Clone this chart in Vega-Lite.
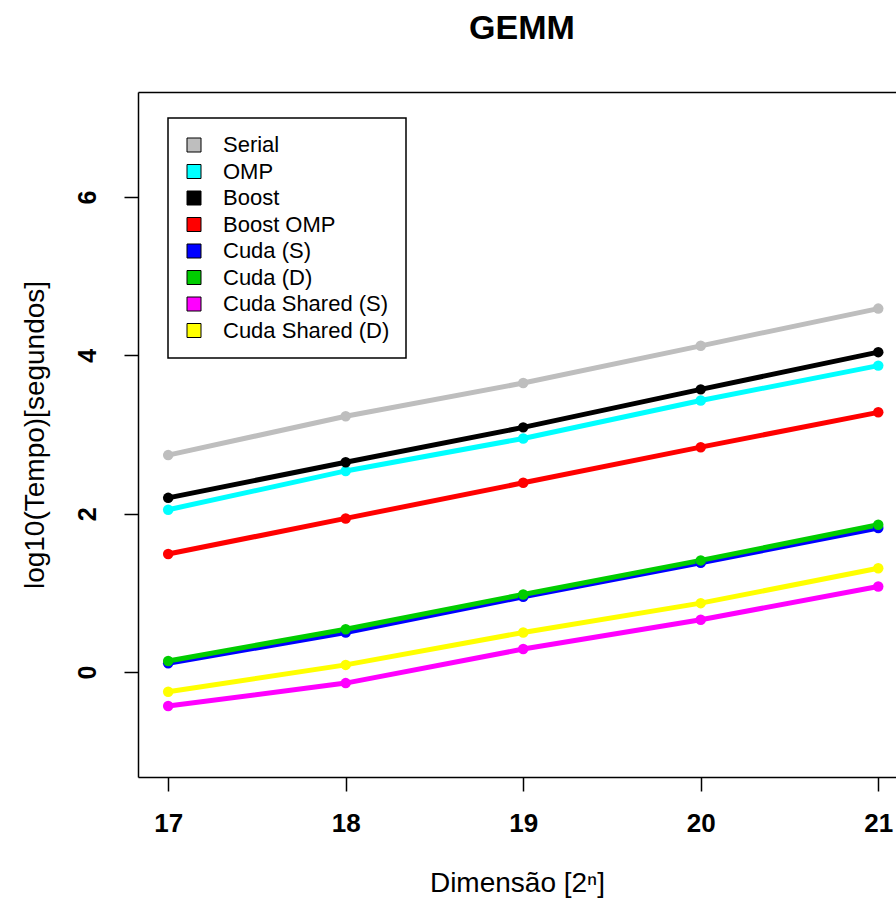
{
  "$schema": "https://vega.github.io/schema/vega-lite/v6.json",
  "width": 758,
  "height": 685,
  "autosize": {"type": "none"},
  "padding": {"left": 138, "top": 92, "right": 0, "bottom": 130},
  "background": "white",
  "title": {
    "text": "GEMM",
    "font": "Liberation Sans",
    "fontSize": 34,
    "fontWeight": "bold",
    "color": "black",
    "anchor": "middle",
    "dx": 5,
    "offset": 46
  },
  "config": {
    "view": {"stroke": null},
    "axis": {
      "grid": false,
      "domainColor": "black",
      "domainWidth": 1.5,
      "tickColor": "black",
      "tickWidth": 1.5,
      "tickSize": 14,
      "labelColor": "black",
      "labelFont": "Liberation Sans",
      "labelFontWeight": "bold",
      "titleFont": "Liberation Sans",
      "titleFontWeight": "normal",
      "titleColor": "black"
    },
    "legend": {
      "orient": "none",
      "legendX": 30,
      "legendY": 26,
      "direction": "vertical",
      "strokeColor": "black",
      "strokeWidth": 1.5,
      "padding": 16,
      "symbolType": "square",
      "symbolSize": 196,
      "symbolOffset": -1,
      "symbolOpacity": 1,
      "symbolStrokeColor": "black",
      "symbolStrokeWidth": 1,
      "labelOffset": 18,
      "labelFont": "Liberation Sans",
      "labelFontSize": 22,
      "labelColor": "black",
      "labelLimit": 400,
      "rowPadding": 4.5
    }
  },
  "data": {
    "values": [
      {"series": "Serial", "n": 17, "t": 2.74},
      {"series": "Serial", "n": 18, "t": 3.23},
      {"series": "Serial", "n": 19, "t": 3.65},
      {"series": "Serial", "n": 20, "t": 4.12},
      {"series": "Serial", "n": 21, "t": 4.59},
      {"series": "OMP", "n": 17, "t": 2.05},
      {"series": "OMP", "n": 18, "t": 2.54},
      {"series": "OMP", "n": 19, "t": 2.95},
      {"series": "OMP", "n": 20, "t": 3.43},
      {"series": "OMP", "n": 21, "t": 3.87},
      {"series": "Boost", "n": 17, "t": 2.2},
      {"series": "Boost", "n": 18, "t": 2.65},
      {"series": "Boost", "n": 19, "t": 3.09},
      {"series": "Boost", "n": 20, "t": 3.57},
      {"series": "Boost", "n": 21, "t": 4.04},
      {"series": "Boost OMP", "n": 17, "t": 1.49},
      {"series": "Boost OMP", "n": 18, "t": 1.94},
      {"series": "Boost OMP", "n": 19, "t": 2.39},
      {"series": "Boost OMP", "n": 20, "t": 2.84},
      {"series": "Boost OMP", "n": 21, "t": 3.28},
      {"series": "Cuda (S)", "n": 17, "t": 0.11},
      {"series": "Cuda (S)", "n": 18, "t": 0.5},
      {"series": "Cuda (S)", "n": 19, "t": 0.95},
      {"series": "Cuda (S)", "n": 20, "t": 1.38},
      {"series": "Cuda (S)", "n": 21, "t": 1.82},
      {"series": "Cuda (D)", "n": 17, "t": 0.14},
      {"series": "Cuda (D)", "n": 18, "t": 0.54},
      {"series": "Cuda (D)", "n": 19, "t": 0.98},
      {"series": "Cuda (D)", "n": 20, "t": 1.41},
      {"series": "Cuda (D)", "n": 21, "t": 1.86},
      {"series": "Cuda Shared (S)", "n": 17, "t": -0.43},
      {"series": "Cuda Shared (S)", "n": 18, "t": -0.14},
      {"series": "Cuda Shared (S)", "n": 19, "t": 0.29},
      {"series": "Cuda Shared (S)", "n": 20, "t": 0.66},
      {"series": "Cuda Shared (S)", "n": 21, "t": 1.08},
      {"series": "Cuda Shared (D)", "n": 17, "t": -0.25},
      {"series": "Cuda Shared (D)", "n": 18, "t": 0.09},
      {"series": "Cuda Shared (D)", "n": 19, "t": 0.5},
      {"series": "Cuda Shared (D)", "n": 20, "t": 0.87},
      {"series": "Cuda Shared (D)", "n": 21, "t": 1.31}
    ]
  },
  "resolve": {"axis": {"x": "independent"}},
  "layer": [
    {
      "mark": {"type": "line", "strokeWidth": 5},
      "encoding": {
        "x": {
          "field": "n",
          "type": "quantitative",
          "scale": {"domain": [16.83, 21.1], "nice": false, "zero": false},
          "axis": {
            "orient": "bottom",
            "values": [17, 18, 19, 20, 21],
            "format": "d",
            "title": "Dimensão [2ⁿ]",
            "labelFontSize": 26,
            "labelPadding": 19,
            "titleFontSize": 28,
            "titlePadding": 33
          }
        },
        "y": {
          "field": "t",
          "type": "quantitative",
          "scale": {"domain": [-1.326, 7.326], "nice": false, "zero": false},
          "axis": {
            "values": [0, 2, 4, 6],
            "format": "d",
            "title": "log10(Tempo)[segundos]",
            "labelAngle": -90,
            "labelFontSize": 25,
            "labelPadding": 24,
            "titleFontSize": 28,
            "titlePadding": 26
          }
        },
        "stroke": {
          "field": "series",
          "type": "nominal",
          "sort": null,
          "scale": {
            "range": ["#BEBEBE", "#00FFFF", "#000000", "#FF0000", "#0000FF", "#00CD00", "#FF00FF", "#FFFF00"]
          },
          "legend": null
        }
      }
    },
    {
      "mark": {"type": "point", "filled": true, "size": 110, "opacity": 1},
      "encoding": {
        "x": {
          "field": "n",
          "type": "quantitative",
          "axis": {
            "orient": "top",
            "labels": false,
            "ticks": false,
            "title": null,
            "domain": true
          }
        },
        "y": {"field": "t", "type": "quantitative"},
        "fill": {
          "field": "series",
          "type": "nominal",
          "sort": null,
          "scale": {
            "domain": ["Serial", "OMP", "Boost", "Boost OMP", "Cuda (S)", "Cuda (D)", "Cuda Shared (S)", "Cuda Shared (D)"],
            "range": ["#BEBEBE", "#00FFFF", "#000000", "#FF0000", "#0000FF", "#00CD00", "#FF00FF", "#FFFF00"]
          },
          "legend": {
            "title": null,
            "symbolType": "square",
            "encode": {
              "symbols": {"update": {"stroke": {"value": "black"}, "strokeWidth": {"value": 1}, "fillOpacity": {"value": 1}}}
            }
          }
        }
      }
    }
  ]
}
